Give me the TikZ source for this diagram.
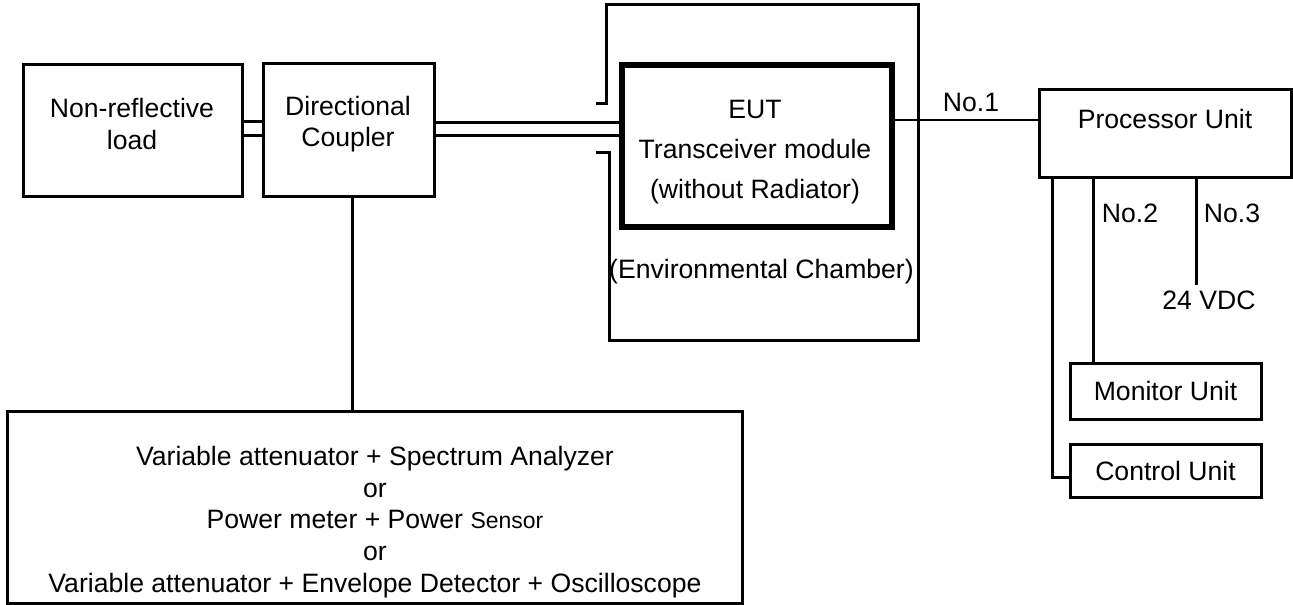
\documentclass[tikz,border=0pt]{standalone}
\usepackage{fontspec}
\setmainfont{Liberation Sans}
\tikzset{every picture/.style={line width=3pt}}

\begin{document}
\begin{tikzpicture}[x=1pt,y=1pt,yscale=-1,xscale=1,
  every node/.style={font=\fontsize{26.6}{31.75}\selectfont},
  unit/.style={draw, line width=3pt, inner sep=0pt},
  wire/.style={line width=3pt},
  lbl/.style={inner sep=0pt, align=center}]
\useasboundingbox (0,0) rectangle (1293,605);

%Boxes
\node[unit, minimum width=219pt, minimum height=132pt] (load) at (132.5,130) {};
\node[unit, minimum width=171pt, minimum height=133pt] (coupler) at (348.5,129.5) {};
\node[unit, line width=5.2pt, minimum width=270pt, minimum height=162pt] (eut) at (757,146) {};
\node[unit, minimum width=252pt, minimum height=88pt] (proc) at (1165,133) {};
\node[unit, minimum width=191pt, minimum height=56pt] (mon) at (1165.5,391) {Monitor Unit};
\node[unit, minimum width=191pt, minimum height=53pt] (ctrl) at (1165.5,470.5) {Control Unit};
\node[unit, minimum width=735pt, minimum height=192pt] (meas) at (374.5,507) {};

%Environmental chamber
\draw[wire] (596,103) -- (606,103) -- (606,4) -- (918,4) -- (918,340) -- (609,340) -- (609,152) -- (596,152);

% Text Node
\node[lbl] (loadtxt) at (132,124) {Non-reflective\\load};
% Text Node
\node[lbl] (couplertxt) at (348,124) {Directional\\Coupler};
% Text Node
\node[lbl, font=\fontsize{26.6}{40}\selectfont] (euttxt) at (755,152) {EUT\\Transceiver module\\(without Radiator)};
% Text Node
\node[lbl] (chambertxt) at (761.5,272) {(Environmental Chamber)};
% Text Node
\node[lbl] (proctxt) at (1165,118.5) {Processor Unit};
% Text Node
\node[lbl] (meastxt) at (375,522) {Variable attenuator + Spectrum Analyzer\\or\\Power meter + Power {\fontsize{23}{31.75}\selectfont Sensor}\\or\\Variable attenuator + Envelope Detector + Oscilloscope};
% Text Node
\node[lbl] (no1) at (971,102) {No.1};
% Text Node
\node[lbl] (no2) at (1130,213.5) {No.2};
% Text Node
\node[lbl] (no3) at (1232,213.5) {No.3};
% Text Node
\node[lbl] (vdc) at (1209,300) {24 VDC};
\coordinate (dcend) at (1196,285);

%Connections
\draw[wire] ([yshift=-9pt]load.east) -- ([yshift=-9pt]load.east -| coupler.west);
\draw[wire] ([yshift=5pt]load.east) -- ([yshift=5pt]load.east -| coupler.west);
\draw[wire] ([yshift=-7.5pt]coupler.east) -- ([yshift=-7.5pt]coupler.east -| eut.west);
\draw[wire] ([yshift=5.5pt]coupler.east) -- ([yshift=5.5pt]coupler.east -| eut.west);
\draw[wire] ([xshift=3.5pt]coupler.south) -- ([xshift=3.5pt]coupler.south |- meas.north);
\draw[wire, line width=2.7pt] ([yshift=-13pt]proc.west) -- ([yshift=-13pt]proc.west -| eut.east);
\draw[wire] ([xshift=-113pt]proc.south) |- ([yshift=6.5pt]ctrl.west);
\draw[wire] ([xshift=-72pt]proc.south) -- ([xshift=-72pt]proc.south |- mon.north);
\draw[wire] ([xshift=31pt]proc.south) -- (dcend);

\end{tikzpicture}
\end{document}
